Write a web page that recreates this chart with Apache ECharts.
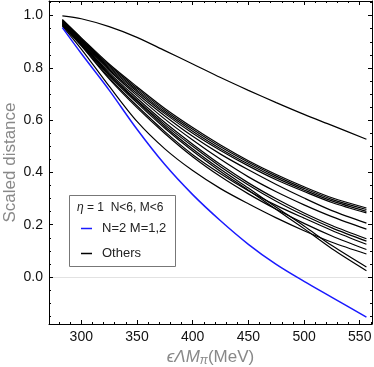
<!DOCTYPE html>
<html>
<head>
<meta charset="utf-8">
<script src="https://cdn.jsdelivr.net/npm/echarts@6/dist/echarts.min.js"></script>
<style>
  html, body { margin: 0; padding: 0; background: #fff; }
  #chart { width: 374px; height: 367px; }
</style>
</head>
<body>
<div id="chart"></div>
<script>
// x positions (MeV) the curves were read at
const xMeV = [283, 300, 325, 350, 375, 400, 425, 450, 475, 500, 525, 556]
// the curve well above the bundle
const upperLine = [0.999, 0.988, 0.958, 0.917, 0.866, 0.815, 0.763, 0.714, 0.667, 0.622, 0.580, 0.527]
// N=2 M=1,2 (blue)
const n2m12 = [0.954, 0.855, 0.715, 0.565, 0.430, 0.315, 0.215, 0.125, 0.048, -0.017, -0.078, -0.154]
// the others
const o1 = [0.985, 0.915, 0.815, 0.728, 0.645, 0.572, 0.505, 0.445, 0.392, 0.345, 0.303, 0.264]
const o2 = [0.983, 0.912, 0.810, 0.722, 0.638, 0.565, 0.498, 0.439, 0.386, 0.339, 0.297, 0.258]
const o3 = [0.981, 0.909, 0.805, 0.716, 0.631, 0.558, 0.491, 0.432, 0.379, 0.333, 0.291, 0.251]
const o4 = [0.979, 0.906, 0.800, 0.710, 0.625, 0.550, 0.484, 0.425, 0.372, 0.327, 0.285, 0.245]
const o5 = [0.977, 0.903, 0.795, 0.702, 0.616, 0.538, 0.470, 0.410, 0.354, 0.302, 0.254, 0.206]
const o6 = [0.975, 0.900, 0.790, 0.694, 0.604, 0.524, 0.450, 0.383, 0.326, 0.276, 0.231, 0.183]
const o7 = [0.973, 0.897, 0.782, 0.684, 0.591, 0.508, 0.430, 0.360, 0.299, 0.245, 0.197, 0.146]
const o8 = [0.971, 0.895, 0.777, 0.676, 0.583, 0.500, 0.422, 0.352, 0.290, 0.236, 0.188, 0.137]
const o9 = [0.969, 0.893, 0.774, 0.672, 0.576, 0.490, 0.412, 0.340, 0.267, 0.195, 0.120, 0.038]
const o10 = [0.967, 0.890, 0.770, 0.666, 0.569, 0.482, 0.404, 0.332, 0.258, 0.185, 0.108, 0.024]
const o11 = [0.965, 0.887, 0.763, 0.655, 0.556, 0.468, 0.395, 0.330, 0.274, 0.225, 0.178, 0.125]
const o12 = [0.963, 0.884, 0.758, 0.648, 0.549, 0.460, 0.384, 0.318, 0.259, 0.205, 0.157, 0.105]
const o13 = [0.960, 0.872, 0.730, 0.595, 0.490, 0.407, 0.338, 0.280, 0.226, 0.177, 0.133, 0.088]

const xTicks = [300, 350, 400, 450, 500, 550]
const yTicks = [0, 0.2, 0.4, 0.6, 0.8, 1.0]
const xMinor = []
for (let v = 280; v <= 560; v += 10) xMinor.push(v)
const yMinor = []
for (let k = -3; k <= 21; k++) yMinor.push(+(k * 0.05).toFixed(2))

const xMin = 271
const xMax = 561
const yMin = -0.18
const yMax = 1.056

const chart = echarts.init(document.getElementById('chart'))

const pts = arr => xMeV.map((x, i) => [x, arr[i]])

const blackLine = (arr) => ({
  name: 'Others',
  type: 'line',
  data: pts(arr),
  smooth: 0.3,
  symbol: 'none',
  z: 2,
  lineStyle: { color: '#000', width: 1.2 },
  itemStyle: { color: '#000' }
})

const font = 'Liberation Sans, Arial, sans-serif'
const frameLine = { show: true, onZero: false, lineStyle: { color: '#000', width: 1 } }
const hiddenLine = { show: false, onZero: false }

const majorX = (pos) => ({
  type: 'value', min: xMin, max: xMax, position: pos,
  axisLine: frameLine,
  axisTick: { show: true, inside: true, length: 4, customValues: xTicks, lineStyle: { color: '#000' } },
  axisLabel: pos === 'bottom'
    ? { show: true, customValues: xTicks, fontSize: 14, color: '#111', margin: 6, fontFamily: font }
    : { show: false },
  splitLine: { show: false }
})
const minorX = (pos) => ({
  type: 'value', min: xMin, max: xMax, position: pos,
  axisLine: hiddenLine,
  axisTick: { show: true, inside: true, length: 2, customValues: xMinor, lineStyle: { color: '#000' } },
  axisLabel: { show: false },
  splitLine: { show: false }
})
const majorY = (pos) => ({
  type: 'value', min: yMin, max: yMax, position: pos,
  axisLine: frameLine,
  axisTick: { show: true, inside: true, length: 4, customValues: yTicks, lineStyle: { color: '#000' } },
  axisLabel: pos === 'left'
    ? { show: true, customValues: yTicks, fontSize: 14, color: '#111', margin: 6, fontFamily: font,
        formatter: v => v.toFixed(1) }
    : { show: false },
  splitLine: { show: false }
})
const minorY = (pos) => ({
  type: 'value', min: yMin, max: yMax, position: pos,
  axisLine: hiddenLine,
  axisTick: { show: true, inside: true, length: 2, customValues: yMinor, lineStyle: { color: '#000' } },
  axisLabel: { show: false },
  splitLine: { show: false }
})

const xBottom = majorX('bottom')
xBottom.name = '{i|ϵΛM}{s|π}{n|(MeV)}'
xBottom.nameLocation = 'middle'
xBottom.nameGap = 23
xBottom.nameMoveOverlap = false
xBottom.nameTextStyle = {
  color: '#888',
  rich: {
    i: { fontSize: 17, fontStyle: 'italic', color: '#888', fontFamily: font },
    s: { fontSize: 12, fontStyle: 'italic', color: '#888', fontFamily: font, padding: [8, 0, 0, 0] },
    n: { fontSize: 17, color: '#888', fontFamily: font }
  }
}
const yLeft = majorY('left')
yLeft.name = 'Scaled distance'
yLeft.nameLocation = 'middle'
yLeft.nameGap = 30
yLeft.nameMoveOverlap = false
yLeft.nameTextStyle = { fontSize: 17, color: '#888', fontFamily: font }

const option = {
  animation: false,
  backgroundColor: '#fff',
  grid: { left: 49, right: 2, top: 1, bottom: 43, containLabel: false, outerBoundsMode: 'none' },
  xAxis: [xBottom, minorX('bottom'), majorX('top'), minorX('top')],
  yAxis: [yLeft, minorY('left'), majorY('right'), minorY('right')],
  legend: {
    orient: 'vertical',
    left: 76,
    top: 217,
    itemWidth: 11,
    itemHeight: 1.5,
    itemGap: 12,
    selectedMode: false,
    z: 5,
    textStyle: { fontSize: 13, color: '#222', fontFamily: font, padding: [0, 0, 0, 5] },
    data: [
      { name: 'N=2 M=1,2', icon: 'rect' },
      { name: 'Others', icon: 'rect' }
    ]
  },
  graphic: [
    {
      type: 'rect', z: 3,
      shape: { x: 69.5, y: 195.5, width: 106, height: 71 },
      style: { fill: '#fff', stroke: '#777', lineWidth: 1 }
    },
    {
      type: 'text', z: 4,
      left: 77, top: 202,
      style: {
        text: '{i|η} {n|= 1  N<6, M<6}',
        rich: {
          i: { fontSize: 12, fontStyle: 'italic', fill: '#222', fontFamily: font },
          n: { fontSize: 12, fill: '#222', fontFamily: font }
        }
      }
    }
  ],
  series: [
    {
      name: 'zero', type: 'line', data: [], z: 0, silent: true,
      markLine: {
        silent: true, symbol: 'none', label: { show: false }, z: 0,
        lineStyle: { color: '#e2e2e2', type: 'solid', width: 1 },
        data: [{ yAxis: 0 }]
      }
    },
    blackLine(upperLine),
    blackLine(o1), blackLine(o2), blackLine(o3), blackLine(o4), blackLine(o5),
    blackLine(o6), blackLine(o7), blackLine(o8), blackLine(o9), blackLine(o10),
    blackLine(o11), blackLine(o12), blackLine(o13),
    {
      name: 'N=2 M=1,2',
      type: 'line',
      data: pts(n2m12),
      smooth: 0.3,
      symbol: 'none',
      z: 3,
      lineStyle: { color: '#1a1aff', width: 1.5 },
      itemStyle: { color: '#1a1aff' }
    }
  ]
}

chart.setOption(option)
</script>
</body>
</html>
